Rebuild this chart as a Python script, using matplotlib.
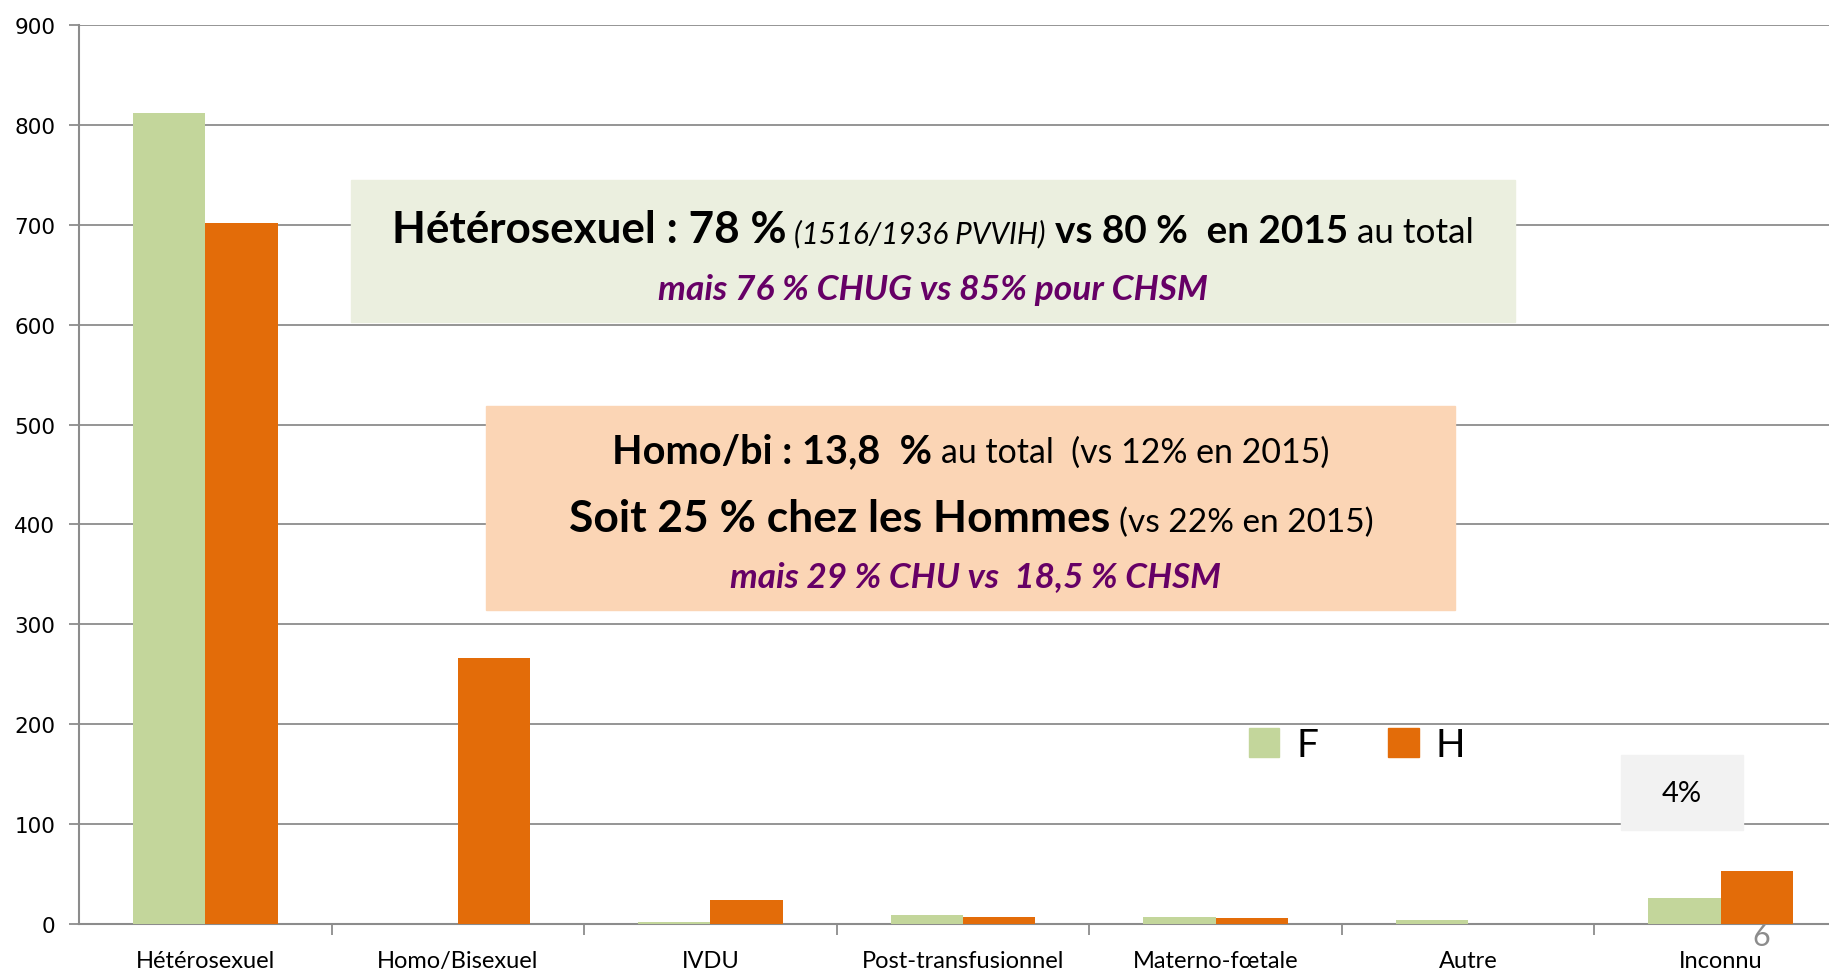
import matplotlib
matplotlib.use("Agg")
import matplotlib.pyplot as plt
from matplotlib.patches import Rectangle, Patch

categories = ["Hétérosexuel", "Homo/Bisexuel", "IVDU", "Post-transfusionnel",
              "Materno-fœtale", "Autre", "Inconnu"]
femmes = [812, 0, 2, 9, 7, 4, 26]
hommes = [702, 266, 24, 7, 6, 0, 53]
yticks = [0, 100, 200, 300, 400, 500, 600, 700, 800, 900]

GREEN = "#c3d69b"
ORANGE = "#e36c09"
GRID = "#8c8c8c"
PURPLE = "#660066"

plt.rcParams["font.family"] = ["Lato", "DejaVu Sans"]

W, H = 1829, 970
fig = plt.figure(figsize=(W / 100, H / 100), dpi=100)
ax = fig.add_axes([79 / W, 1 - 925 / H, 1768 / W, 899 / H])

x = list(range(len(categories)))
bw = 0.286
ax.bar([i - bw / 2 for i in x], femmes, bw, color=GREEN, zorder=3, label="F")
ax.bar([i + bw / 2 for i in x], hommes, bw, color=ORANGE, zorder=3, label="H")

ax.set_xlim(-0.5, 6.5)
ax.set_ylim(0, 900)
ax.set_yticks(yticks)
ax.set_yticklabels([str(v) for v in yticks], fontsize=15.5, fontfamily="DejaVu Sans")
ax.set_xticks(x)
ax.set_xticklabels(categories, fontsize=17)
ax.set_xticks([0.5, 1.5, 2.5, 3.5, 4.5, 5.5], minor=True)
ax.tick_params(axis="y", length=7, width=1.3, color=GRID, pad=10)
ax.tick_params(axis="x", which="major", length=0, pad=19)
ax.tick_params(axis="x", which="minor", length=8, width=1.3, color=GRID)
ax.yaxis.grid(True, color=GRID, lw=1.3)
ax.set_axisbelow(True)
for s in ["top", "right"]:
    ax.spines[s].set_visible(False)
for s in ["left", "bottom"]:
    ax.spines[s].set_color(GRID)
    ax.spines[s].set_linewidth(1.5)

r = fig.canvas.get_renderer()


def text_w(s, **kw):
    t = fig.text(0, 0, s, **kw)
    w = t.get_window_extent(renderer=r).width
    t.remove()
    return w


def rich_line(xc, yb, pieces, target_w):
    def layout(scale):
        items = []
        pos = 0
        for s, size, style in pieces:
            kw = dict(style, fontsize=size * scale)
            lead = len(s) - len(s.lstrip(" "))
            if lead:
                pos += lead * (text_w("a a", **kw) - text_w("aa", **kw))
            items.append((pos, s.strip(), kw))
            pos += text_w(s.strip(), **kw)
        return items, pos
    items, total = layout(1.0)
    items, total = layout(target_w / total)
    x0 = xc - total / 2
    for px, s, kw in items:
        fig.text((x0 + px) / W, 1 - yb / H, s, va="baseline", ha="left", zorder=10, **kw)


def box(x0, y0, x1, y1, color):
    fig.patches.append(Rectangle((x0 / W, 1 - y1 / H), (x1 - x0) / W, (y1 - y0) / H,
                                 transform=fig.transFigure, color=color, zorder=5))


B = dict(fontweight="bold")
N = dict()
I = dict(fontstyle="italic")
P = dict(fontweight="bold", fontstyle="italic", color=PURPLE)

box(351, 181, 1515, 323, "#ebefdf")
rich_line(933, 243, [("Hétérosexuel : 78 %", 25.9, B), (" (1516/1936 PVVIH)", 17.4, I),
                     (" vs 80 %  en 2015", 22.8, B), (" au total", 20.7, N)], 1082)
rich_line(933, 300, [("mais 76 % CHUG vs 85% pour CHSM", 20, P)], 549)

box(486, 407, 1455, 611, "#fbd5b5")
rich_line(971, 463, [("Homo/bi : 13,8  %", 23.5, B), (" au total  (vs 12% en 2015)", 20.1, N)], 715)
rich_line(971, 532, [("Soit 25 % chez les Hommes", 28, B), (" (vs 22% en 2015)", 21, N)], 804)
rich_line(975, 587, [("mais 29 % CHU vs  18,5 % CHSM", 20, P)], 491)

box(1621, 756, 1743, 831, "#f2f2f2")
fig.text(1682 / W, 1 - 794 / H, "4%", ha="center", va="center", fontsize=21, zorder=10)

fig.legend(handles=[Patch(color=GREEN, label="F"), Patch(color=ORANGE, label="H")],
           loc="center left", bbox_to_anchor=(1249 / W, 1 - 746 / H), ncol=2,
           frameon=False, fontsize=28, handlelength=0.78, handleheight=0.78,
           handletextpad=0.44, columnspacing=1.8, borderpad=0, borderaxespad=0)

fig.text(1761 / W, 1 - 937 / H, "6", ha="center", va="center", fontsize=22,
         color="#8c8c8c", zorder=10)

fig.savefig("out.png", dpi=100)
